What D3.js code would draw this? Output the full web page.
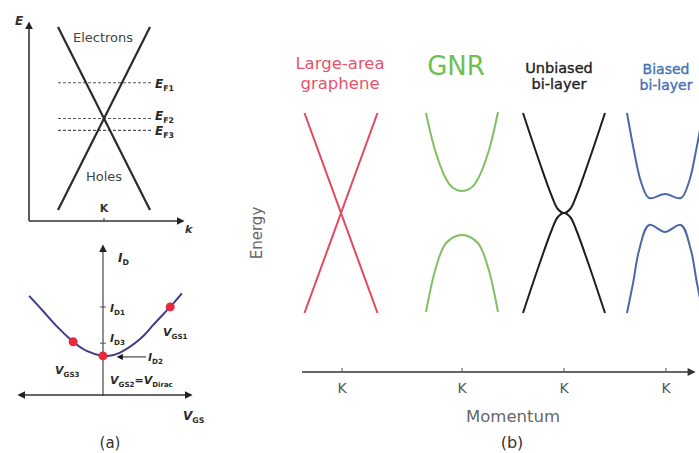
<!DOCTYPE html>
<html>
<head>
<meta charset="utf-8">
<script src="https://cdn.jsdelivr.net/npm/d3@7"></script>
<style>
  html, body { margin: 0; padding: 0; background: #fff; }
  svg { display: block; font-family: "DejaVu Sans", Verdana, sans-serif; }
</style>
</head>
<body>
<svg id="fig" width="699" height="453"></svg>
<script>
// ---------- Panel (a), top: Dirac cone E(k) ----------
const coneBranches = [
  [[-1, 1], [1, -1]],
  [[-1, -1], [1, 1]]
];
const fermiLevels = [0.39, 0.0, -0.13];
const fermiNames = ["F1", "F2", "F3"];

// ---------- Panel (a), bottom: transfer curve ID(VGS) ----------
const transferVgs = [-0.89, -0.72, -0.55, -0.36, -0.19, 0, 0.2, 0.45, 0.6, 0.81, 0.95];
const transferId  = [0.67, 0.566, 0.46, 0.36, 0.296, 0.264, 0.285, 0.38, 0.47, 0.595, 0.686];
const biasNames = ["GS1", "GS2", "GS3"];
const biasVgs   = [0.81, 0, -0.36];
const biasId    = [0.595, 0.264, 0.36];
const currentTickNames = ["D1", "D3"];
const currentTickValues = [0.595, 0.35];

// ---------- Panel (b): band structures near K ----------
const materials = ["Large-area graphene", "GNR", "Unbiased bi-layer", "Biased bi-layer"];
const tickLabels = ["K", "K", "K", "K"];
// each branch: list of [k, E]
const graphene = [
  [[-1, 1], [1, -1]],
  [[-1, -1], [1, 1]]
];
const gnr = [
  [[-1, 1.0], [-0.75, 0.63], [-0.47, 0.36], [-0.28, 0.26], [0, 0.22], [0.28, 0.26], [0.47, 0.36], [0.75, 0.63], [1, 1.01]],
  [[-1, -0.99], [-0.72, -0.54], [-0.44, -0.3], [0, -0.22], [0.44, -0.3], [0.72, -0.54], [1, -0.99]]
];
const unbiased = [
  [[-1, 1.0], [-0.59, 0.5], [-0.29, 0.16], [-0.15, 0.04], [0, 0.0], [0.15, 0.04], [0.29, 0.16], [0.59, 0.5], [1, 1.0]],
  [[-1, -1.0], [-0.59, -0.5], [-0.29, -0.16], [-0.15, -0.04], [0, 0.0], [0.15, -0.04], [0.29, -0.16], [0.59, -0.5], [1, -1.0]]
];
const biased = [
  [[-1, 1.0], [-0.82, 0.63], [-0.63, 0.31], [-0.42, 0.15], [0, 0.19], [0.42, 0.15], [0.63, 0.31], [0.82, 0.63], [1, 1.0]],
  [[-1, -1.0], [-0.84, -0.7], [-0.68, -0.37], [-0.42, -0.12], [0, -0.19], [0.42, -0.12], [0.68, -0.37], [0.84, -0.7], [1, -1.0]]
];
const bands = [graphene, gnr, unbiased, biased];

// ---------- layout & styles ----------
const bandColors = ["#e2485e", "#7fc160", "#1e1e1e", "#4d68a8"];
const titleColors = ["#e8526c", "#6fbf55", "#222222", "#4470b5"];
const bandCenters = [341, 462, 564, 665];
const bandHalfWidths = [36.5, 36, 41, 38];

const svg = d3.select("#fig");
const defs = svg.append("defs");
function marker(id, color, w, h) {
  defs.append("marker")
    .attr("id", id)
    .attr("viewBox", "0 0 10 10")
    .attr("refX", 8).attr("refY", 5)
    .attr("markerWidth", w).attr("markerHeight", h)
    .attr("markerUnits", "userSpaceOnUse")
    .attr("orient", "auto-start-reverse")
    .append("path")
    .attr("d", "M0,0 L10,5 L0,10 Z")
    .attr("fill", color);
}
marker("arrA", "#222", 8, 8);
marker("arrB", "#333", 9, 8);
marker("arrS", "#111", 6, 6);

// Text helper with a subscript
function subText(g, x, y, main, sub, opts = {}) {
  const t = g.append("text")
    .attr("x", x).attr("y", y)
    .attr("fill", opts.color || "#2a2a2a")
    .attr("font-size", opts.size || 12)
    .attr("font-weight", "bold")
    .attr("font-style", opts.italic === false ? "normal" : "italic");
  t.append("tspan").text(main);
  t.append("tspan").attr("font-size", (opts.size || 12) * 0.65).attr("dy", 3).attr("font-style", "normal").text(sub);
  return t;
}

// ================= Panel (a) top =================
const gA = svg.append("g");
const kA = d3.scaleLinear().domain([-1, 1]).range([58, 150]);
const eA = d3.scaleLinear().domain([-1, 1]).range([210, 27]);
const lineA = d3.line().x(d => kA(d[0])).y(d => eA(d[1]));

// axes
gA.append("line").attr("x1", 29).attr("y1", 221).attr("x2", 29).attr("y2", 23)
  .attr("stroke", "#333").attr("stroke-width", 1.6).attr("marker-end", "url(#arrA)");
gA.append("line").attr("x1", 29).attr("y1", 221).attr("x2", 183).attr("y2", 221)
  .attr("stroke", "#333").attr("stroke-width", 1.6).attr("marker-end", "url(#arrA)");
gA.append("line").attr("x1", kA(0)).attr("x2", kA(0)).attr("y1", 218).attr("y2", 221)
  .attr("stroke", "#333").attr("stroke-width", 1);

// Fermi levels
gA.selectAll(".ef").data(fermiLevels).join("line")
  .attr("x1", kA(-1)).attr("x2", kA(1) + 1)
  .attr("y1", d => eA(d)).attr("y2", d => eA(d))
  .attr("stroke", "#555").attr("stroke-width", 1.1).attr("stroke-dasharray", "3,2");
fermiLevels.forEach((d, i) => {
  const shift = i === 1 ? 1 : 5;
  subText(gA, 155, eA(d) + shift, "E", fermiNames[i], { size: 12 });
});

// cone
gA.selectAll(".cone").data(coneBranches).join("path")
  .attr("d", lineA).attr("fill", "none").attr("stroke", "#2b2b2b").attr("stroke-width", 2.2);

gA.append("text").attr("x", 103).attr("y", 42).attr("text-anchor", "middle")
  .attr("font-size", 13).attr("fill", "#444").text("Electrons");
gA.append("text").attr("x", 104).attr("y", 181).attr("text-anchor", "middle")
  .attr("font-size", 13).attr("fill", "#444").text("Holes");
gA.append("text").attr("x", kA(0)).attr("y", 212).attr("text-anchor", "middle")
  .attr("font-size", 11).attr("font-weight", "bold").attr("fill", "#333").text("K");
gA.append("text").attr("x", 15).attr("y", 25).attr("font-size", 12).attr("font-weight", "bold")
  .attr("font-style", "italic").attr("fill", "#333").text("E");
gA.append("text").attr("x", 185).attr("y", 233).attr("font-size", 11).attr("font-weight", "bold")
  .attr("font-style", "italic").attr("fill", "#333").text("k");

// ================= Panel (a) bottom =================
const gT = svg.append("g");
const vA = d3.scaleLinear().domain([-1, 1]).range([20, 186]);
const iA = d3.scaleLinear().domain([0, 1]).range([395, 247]);

gT.append("line").attr("x1", vA(0)).attr("x2", vA(0)).attr("y1", 396).attr("y2", 246)
  .attr("stroke", "#555").attr("stroke-width", 1.3).attr("marker-end", "url(#arrA)");
gT.append("line").attr("x1", 19).attr("x2", 191).attr("y1", 395).attr("y2", 395)
  .attr("stroke", "#333").attr("stroke-width", 1.6)
  .attr("marker-start", "url(#arrA)").attr("marker-end", "url(#arrA)");

// current ticks
currentTickValues.forEach((v, i) => {
  gT.append("line").attr("x1", vA(0) - 3).attr("x2", vA(0) + 3)
    .attr("y1", iA(v)).attr("y2", iA(v)).attr("stroke", "#555").attr("stroke-width", 1);
});
subText(gT, 110, iA(currentTickValues[0]) + 5, "I", currentTickNames[0], { size: 11 });
subText(gT, 110, iA(currentTickValues[1]) - 1, "I", currentTickNames[1], { size: 11 });

const transferPts = transferVgs.map((v, i) => [v, transferId[i]]);
gT.append("path").datum(transferPts)
  .attr("d", d3.line().x(d => vA(d[0])).y(d => iA(d[1])).curve(d3.curveNatural))
  .attr("fill", "none").attr("stroke", "#3c3c88").attr("stroke-width", 2);

// ID2 pointer
gT.append("line").attr("x1", 146).attr("x2", vA(0) + 15)
  .attr("y1", iA(biasId[1]) + 1).attr("y2", iA(biasId[1]) + 1)
  .attr("stroke", "#222").attr("stroke-width", 1).attr("marker-end", "url(#arrS)");
subText(gT, 148, iA(biasId[1]) + 5, "I", "D2", { size: 11 });

gT.selectAll(".bias").data(biasVgs).join("circle")
  .attr("cx", d => vA(d)).attr("cy", (d, i) => iA(biasId[i]))
  .attr("r", 4.5).attr("fill", "#e8283c");

subText(gT, 163, 336, "V", biasNames[0], { size: 11 });
subText(gT, 55, 374, "V", biasNames[2], { size: 11 });
const v2 = subText(gT, 110, 384, "V", biasNames[1], { size: 11 });
v2.append("tspan").attr("dy", -3).attr("font-style", "normal").text("=");
v2.append("tspan").text("V");
v2.append("tspan").attr("font-size", 7).attr("dy", 3).attr("font-style", "normal").text("Dirac");

subText(gT, 118, 262, "I", "D", { size: 12 });
subText(gT, 183, 420, "V", "GS", { size: 12 });

svg.append("text").attr("x", 110).attr("y", 448).attr("text-anchor", "middle")
  .attr("font-size", 15).attr("fill", "#333").text("(a)");

// ================= Panel (b) =================
const gB = svg.append("g");
const eB = d3.scaleLinear().domain([-1, 1]).range([313, 113]);

bands.forEach((branches, i) => {
  const kB = d3.scaleLinear().domain([-1, 1])
    .range([bandCenters[i] - bandHalfWidths[i], bandCenters[i] + bandHalfWidths[i]]);
  const ln = d3.line().x(d => kB(d[0])).y(d => eB(d[1]))
    .curve(i === 0 ? d3.curveLinear : d3.curveCatmullRom.alpha(0.5));
  gB.selectAll(null).data(branches).join("path")
    .attr("d", ln).attr("fill", "none")
    .attr("stroke", bandColors[i]).attr("stroke-width", 2);
});

// titles
const titleSpec = [
  { lines: ["Large-area", "graphene"], x: 340, y: [69, 89], size: 16.5 },
  { lines: ["GNR"], x: 456, y: [75], size: 26 },
  { lines: ["Unbiased", "bi-layer"], x: 559, y: [73, 89], size: 14.5 },
  { lines: ["Biased", "bi-layer"], x: 666, y: [74, 90], size: 14 }
];
titleSpec.forEach((s, i) => {
  s.lines.forEach((ln, j) => {
    gB.append("text").attr("x", s.x).attr("y", s.y[j]).attr("text-anchor", "middle")
      .attr("font-size", s.size).attr("fill", titleColors[i])
      .attr("stroke", i >= 2 ? titleColors[i] : "none").attr("stroke-width", 0.35)
      .text(ln);
  });
});

// momentum axis
gB.append("line").attr("x1", 302).attr("x2", 694).attr("y1", 372).attr("y2", 372)
  .attr("stroke", "#333").attr("stroke-width", 1.4).attr("marker-end", "url(#arrB)");
const kTicks = [342, 462, 564, 666];
gB.selectAll(".kt").data(tickLabels).join("line")
  .attr("x1", (d, i) => kTicks[i]).attr("x2", (d, i) => kTicks[i])
  .attr("y1", 368).attr("y2", 372).attr("stroke", "#555").attr("stroke-width", 1);
gB.selectAll(".kl").data(tickLabels).join("text")
  .attr("x", (d, i) => kTicks[i]).attr("y", 393).attr("text-anchor", "middle")
  .attr("font-size", 14).attr("fill", "#555").text(d => d);

gB.append("text").attr("x", 513).attr("y", 422).attr("text-anchor", "middle")
  .attr("font-size", 16.5).attr("fill", "#666").text("Momentum");
gB.append("text").attr("transform", "translate(262,233) rotate(-90)").attr("text-anchor", "middle")
  .attr("font-size", 15).attr("fill", "#666").text("Energy");
svg.append("text").attr("x", 512).attr("y", 448).attr("text-anchor", "middle")
  .attr("font-size", 16).attr("fill", "#333").text("(b)");
</script>
</body>
</html>
